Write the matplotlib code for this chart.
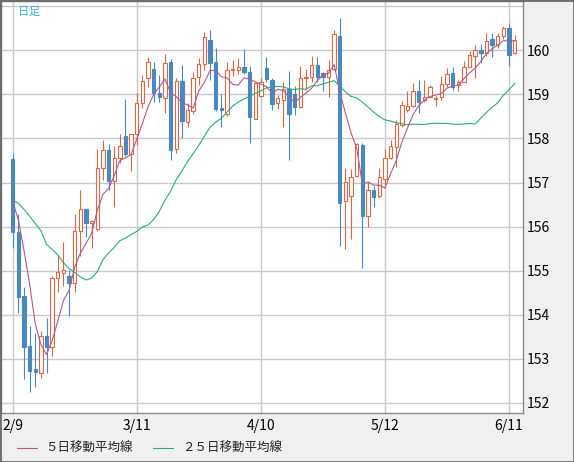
import numpy as np
import pandas as pd
import matplotlib
matplotlib.use('Agg')
import matplotlib.pyplot as plt
from matplotlib.lines import Line2D
from matplotlib.patches import Rectangle

plt.rcParams['font.family'] = ['Noto Sans CJK JP', 'DejaVu Sans']

# daily candles (open, high, low, close), first day 2026-02-09
open_ = [157.53, 155.87, 154.42, 153.29, 152.76, 152.67, 153.52, 153.27, 154.83, 154.95,
         154.88, 154.71, 155.90, 156.39, 156.08, 155.94, 157.32, 157.74, 157.04, 157.55,
         158.05, 157.65, 158.10, 158.81, 159.36, 159.57, 159.04, 158.91, 159.73, 157.75,
         159.30, 158.38, 158.63, 159.39, 159.68, 160.23, 159.73, 158.68, 158.55, 159.54,
         159.54, 159.62, 159.51, 158.45, 158.96, 159.59, 159.32, 158.80, 158.87, 159.11,
         159.01, 158.72, 159.36, 159.39, 159.66, 159.49, 159.39, 159.57, 160.32, 156.57,
         156.70, 157.15, 157.85, 156.23, 156.83, 156.70, 157.08, 157.55, 157.80, 158.31,
         158.64, 158.73, 159.08, 158.86, 158.95, 158.89, 158.93, 159.23, 159.49, 159.21,
         159.29, 159.63, 159.88, 160.00, 159.93, 160.25, 160.12, 160.33, 160.50, 159.93]
high = [157.67, 156.28, 154.63, 153.75, 153.58, 153.63, 153.93, 154.88, 155.33, 155.65,
        155.02, 156.28, 156.83, 156.41, 156.15, 157.75, 157.96, 157.87, 157.83, 158.10,
        158.89, 158.11, 159.02, 159.44, 159.84, 159.73, 159.44, 159.91, 159.79, 159.38,
        159.66, 158.80, 159.50, 159.83, 160.42, 160.46, 160.04, 159.01, 159.74, 159.78,
        159.82, 160.02, 159.64, 159.29, 159.36, 159.85, 159.38, 158.98, 159.29, 159.53,
        159.19, 159.64, 159.57, 159.87, 159.85, 159.51, 159.78, 160.46, 160.72, 157.32,
        157.30, 157.90, 157.90, 157.02, 156.92, 157.32, 157.77, 157.97, 158.42, 158.85,
        159.08, 159.26, 159.32, 159.32, 159.21, 158.96, 159.42, 159.59, 159.63, 159.32,
        159.76, 159.98, 160.11, 160.13, 160.38, 160.38, 160.40, 160.56, 160.61, 160.35]
low = [155.52, 154.05, 152.55, 152.26, 152.37, 152.57, 152.69, 153.07, 154.52, 154.65,
       153.98, 154.52, 155.33, 155.77, 155.52, 155.90, 157.06, 156.83, 156.45, 157.44,
       157.60, 157.27, 157.85, 158.68, 159.17, 158.83, 158.83, 158.57, 157.50, 157.66,
       158.02, 158.27, 158.55, 159.21, 159.55, 159.33, 158.62, 158.27, 158.51, 159.42,
       159.46, 159.46, 157.89, 158.44, 158.93, 159.29, 158.64, 158.66, 158.27, 157.50,
       158.53, 158.70, 159.10, 159.29, 159.29, 159.08, 158.95, 159.54, 155.56, 155.49,
       155.73, 157.12, 155.05, 156.00, 156.44, 156.64, 156.87, 157.53, 157.36, 158.27,
       158.61, 158.72, 158.58, 158.83, 158.93, 158.73, 158.87, 159.17, 159.10, 159.08,
       159.27, 159.61, 159.38, 159.70, 159.88, 159.85, 160.06, 160.25, 159.65, 159.91]
close = [155.87, 154.41, 153.27, 152.73, 152.71, 153.52, 153.27, 154.83, 154.96, 155.02,
         154.71, 155.90, 156.39, 156.09, 156.12, 157.32, 157.74, 157.04, 157.55, 157.83,
         157.65, 158.10, 158.80, 159.30, 159.74, 159.04, 158.95, 159.70, 157.74, 159.30,
         158.40, 158.64, 159.36, 159.68, 160.29, 159.72, 158.67, 158.64, 159.54, 159.57,
         159.62, 159.50, 158.49, 159.25, 159.29, 159.34, 158.77, 158.91, 159.11, 158.56,
         158.72, 159.36, 159.39, 159.66, 159.40, 159.39, 159.55, 160.37, 156.54, 157.02,
         157.12, 157.87, 156.23, 156.82, 156.66, 157.12, 157.55, 157.83, 158.33, 158.75,
         158.73, 159.08, 158.83, 158.95, 159.16, 158.90, 159.23, 159.46, 159.17, 159.29,
         159.61, 159.89, 160.00, 159.93, 160.21, 160.12, 160.32, 160.50, 159.90, 160.23]

# moving average values before the window is full
ma5_head = [156.58, 156.15, 155.47, 154.70]
ma25_head = [156.60, 156.53, 156.39, 156.24, 156.07, 155.91, 155.60, 155.48, 155.36, 155.18,
             155.05, 154.96, 154.86, 154.79, 154.83, 154.98, 155.25, 155.40, 155.53, 155.68,
             155.74, 155.82, 155.89, 155.99]

price_ticks = [152, 153, 154, 155, 156, 157, 158, 159, 160, 161]

o = np.array(open_)
h = np.array(high)
l = np.array(low)
c = np.array(close)
n = len(c)
x = np.arange(n)
dates = pd.bdate_range('2026-02-09', periods=n)

ma5 = pd.Series(c).rolling(5).mean().to_numpy()
ma5[:len(ma5_head)] = ma5_head
ma25 = pd.Series(c).rolling(25).mean().to_numpy()
ma25[:len(ma25_head)] = ma25_head

up_col = '#db6745'
down_col = '#4a89bf'
grid_col = '#c8c8c8'

W, H = 574, 462
fig = plt.figure(figsize=(W / 100, H / 100), dpi=100, facecolor='#f0f0f0')
ax = fig.add_axes([1 / W, 1 - 413 / H, 522 / W, 412 / H])
ax.set_facecolor('white')

# candles
up = c >= o
cols = np.where(up, up_col, down_col)
ax.vlines(x, l, h, colors=cols, linewidth=0.8, zorder=2)
bottom = np.minimum(o, c)
height = np.maximum(np.abs(c - o), 0.02)
ax.bar(x[up], height[up], bottom=bottom[up], width=0.6, facecolor='white',
       edgecolor=up_col, linewidth=0.8, zorder=3)
ax.bar(x[~up], height[~up], bottom=bottom[~up], width=0.6, facecolor=down_col,
       edgecolor=down_col, linewidth=0.8, zorder=3)

# moving averages
ax.plot(x, ma25, color='#2aad72', linewidth=0.8, zorder=4)
ax.plot(x, ma5, color='#b05a8c', linewidth=0.8, zorder=4)

ax.set_xlim(-2.07, 90.48)
ax.set_ylim(151.773, 161.116)

tick_idx = list(range(0, n, 22))
ax.set_xticks(tick_idx)
ax.set_xticklabels([f'{dates[i].month}/{dates[i].day}' for i in tick_idx], fontsize=10)
ax.set_yticks(price_ticks)
ax.set_yticklabels([str(p) if p < 161 else '' for p in price_ticks], fontsize=10)
ax.yaxis.tick_right()
ax.tick_params(axis='both', length=0, colors='black')
ax.tick_params(axis='x', pad=4)
ax.tick_params(axis='y', pad=3)
ax.grid(True, color=grid_col, linewidth=1.0, zorder=0)
ax.set_axisbelow(True)

for side in ['top', 'left']:
    ax.spines[side].set_color('#6e6e6e')
for side in ['right', 'bottom']:
    ax.spines[side].set_color('#8a8a8a')
for s in ax.spines.values():
    s.set_linewidth(1.0)

ax.text(16.5 / 522, 1 - 10.5 / 412, '日足', transform=ax.transAxes, color='#38a9e0',
        fontsize=8, ha='left', va='center')

# legend along the bottom
ly = 1 - 448 / H
fig.add_artist(Line2D([16.5 / W, 36.5 / W], [ly, ly], color='#b05a8c', linewidth=0.8))
fig.text(45.5 / W, ly, '５日移動平均線', fontsize=9, color='#222222', va='center', ha='left')
fig.add_artist(Line2D([153 / W, 173 / W], [ly, ly], color='#2aad72', linewidth=0.8))
fig.text(182 / W, ly, '２５日移動平均線', fontsize=9, color='#222222', va='center', ha='left')

fig.add_artist(Rectangle((0, 0), 1, 1, transform=fig.transFigure, fill=False,
                         edgecolor='#6e6e6e', linewidth=2))

fig.savefig('out.png', dpi=100)
